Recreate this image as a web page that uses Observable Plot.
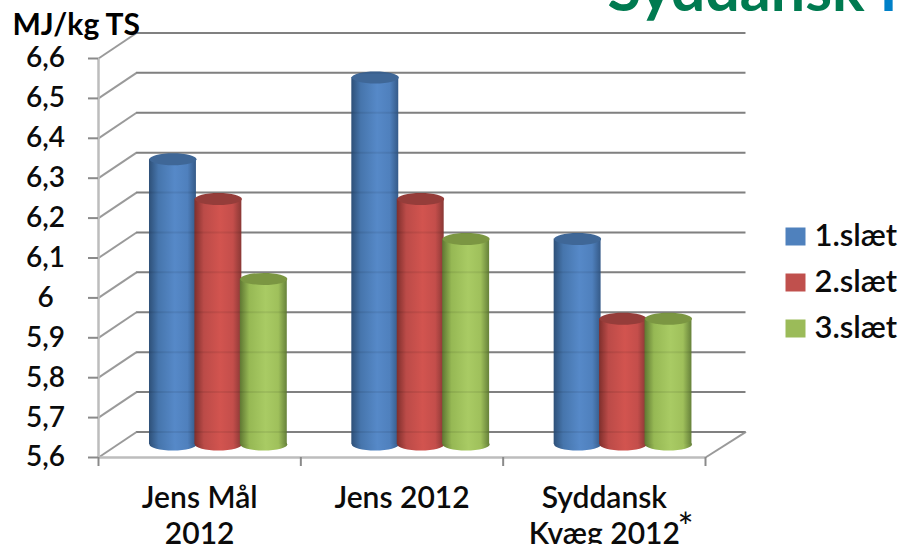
<!DOCTYPE html>
<html><head><meta charset="utf-8">
<style>html,body{margin:0;padding:0;background:#fff;overflow:hidden}</style>
<script src="https://cdn.jsdelivr.net/npm/d3@7"></script>
<script src="https://cdn.jsdelivr.net/npm/@observablehq/plot@0.6"></script>
</head><body><div id="c"></div>
<script>
const categories = ["Jens Mål\n2012", "Jens 2012", "Syddansk\nKvæg 2012"];
const seriesNames = ["1.slæt", "2.slæt", "3.slæt"];
const slaet1 = [6.315, 6.52, 6.115];
const slaet2 = [6.215, 6.215, 5.915];
const slaet3 = [6.015, 6.115, 5.915];
const yTicks = [5.6, 5.7, 5.8, 5.9, 6, 6.1, 6.2, 6.3, 6.4, 6.5, 6.6];
const xTicks = [0, 1, 2, 3];
const colors = [
  {id:"g0", stops:["#2e5078","#4675ac","#5689c8","#4f80bd","#355a88"], cap:"#3f6797", flat:"#4f81bd"},
  {id:"g1", stops:["#7f2f2c","#bb4b48","#d2544f","#c44e4b","#8a3835"], cap:"#953d3a", flat:"#c0504d"},
  {id:"g2", stops:["#5f7732","#96b854","#a9cb64","#9fc05b","#66813a"], cap:"#7b9642", flat:"#9bbb59"}
];
const values = [slaet1, slaet2, slaet3];

const depthX0 = 0.188, depthX1 = 3.2, depthY = 0.064, barDy = -13;
const barW = 0.232, barStart = 0.252, barStep = 0.2245;
const rx = 23.5, ry = 6;
const ellipse = (rX, rY) => ({draw(c){
  const k = 0.5523;
  c.moveTo(-rX,0);
  c.bezierCurveTo(-rX,-k*rY,-k*rX,-rY,0,-rY);
  c.bezierCurveTo(k*rX,-rY,rX,-k*rY,rX,0);
  c.bezierCurveTo(rX,k*rY,k*rX,rY,0,rY);
  c.bezierCurveTo(-k*rX,rY,-rX,k*rY,-rX,0);
  c.closePath();
}});
const box = (w, h) => ({draw(c){ c.rect(-w/2, -h/2, w, h); }});
const defs = () => {
  const d = d3.create("svg:defs");
  for (const col of colors) {
    const g = d.append("linearGradient").attr("id", col.id).attr("x1",0).attr("x2",1).attr("y1",0).attr("y2",0);
    [0,.2,.55,.82,1].forEach((o,i)=>g.append("stop").attr("offset",o).attr("stop-color",col.stops[i]));
  }
  return d.node();
};
const comma = d => String(d).replace(".", ",");
const font = "Lato";
const ink = "#0b0b0b";
const wallLine = {stroke:"#8a8a8a", strokeWidth:2};
const marks = [
  defs,
  Plot.ruleY(yTicks, {y: d => d + depthY, x1: depthX0, x2: depthX1, ...wallLine}),
  Plot.link(yTicks, {x1: 0, y1: d => d, x2: depthX0, y2: d => d + depthY, stroke:"#9a9a9a", strokeWidth:2}),
  Plot.link([5.6], {x1: 3, y1: d => d, x2: depthX1, y2: d => d + depthY, stroke:"#9a9a9a", strokeWidth:2}),
  Plot.ruleX([0], {y1:5.6, y2:6.6, stroke:"#bdbdbd", strokeWidth:2.5}),
  Plot.ruleY([5.6], {x1:0, x2:3, stroke:"#bdbdbd", strokeWidth:2.5}),
  Plot.axisY({ticks:yTicks, tickFormat:comma, tickSize:10, tickPadding:43, textAnchor:"middle", label:null,
    stroke:"#8a8a8a", strokeWidth:2, fill:ink, fontSize:28, fontFamily:font, fontWeight:600}),
  Plot.axisX({ticks:xTicks, tickFormat:()=>"", tickSize:9, label:null, stroke:"#8a8a8a", strokeWidth:2}),
];
categories.forEach((cat, i) => {
  colors.forEach((col, s) => {
    const d = [{x1:i+barStart+s*barStep, v:values[s][i]}];
    const opts = {dy:barDy, fill:`url(#${col.id})`};
    const xc = r => r.x1 + barW/2;
    marks.push(
      Plot.dot(d, {x:xc, y:()=>5.6, r:rx, symbol:ellipse(rx,ry), ...opts}),
      Plot.rect(d, {x1:"x1", x2:r=>r.x1+barW, y1:()=>5.6, y2:"v", ...opts}),
      Plot.dot(d, {x:xc, y:"v", r:rx, symbol:ellipse(rx,ry), dy:barDy, fill:col.cap})
    );
  });
});
marks.push(
  Plot.ruleY(yTicks, {y:d=>d+depthY, x1:depthX0, x2:depthX1, stroke:"#000", strokeOpacity:.07, strokeWidth:2}),
  Plot.text(categories, {x:(d,i)=>i+0.5, y:()=>5.6, text:d=>d, dy:25, lineAnchor:"top", lineHeight:1.2, fontSize:30, fontFamily:font, fontWeight:600, fill:ink}),
  Plot.text(["*"], {frameAnchor:"top-right", dx:-28, dy:456, text:d=>d, fontSize:38, fontFamily:font, fill:ink, lineAnchor:"top", textAnchor:"start"}),
  Plot.text(["MJ/kg TS"], {frameAnchor:"top-left", dx:-86, dy:-33, text:d=>d, fontSize:30, fontWeight:700, fontFamily:font, fill:"#000", textAnchor:"start", lineAnchor:"middle"}),
  Plot.text(["Syddansk"], {frameAnchor:"top-left", dx:509, dy:-48, text:d=>d, fontSize:61, fontWeight:700, fontFamily:font, fill:"#007a50", textAnchor:"start", lineAnchor:"bottom"}),
  Plot.text(["K"], {frameAnchor:"top-left", dx:781, dy:-48, text:d=>d, fontSize:61, fontWeight:700, fontFamily:font, fill:"#0080c8", textAnchor:"start", lineAnchor:"bottom"})
);
seriesNames.forEach((name, s) => {
  marks.push(
    Plot.dot([name], {frameAnchor:"top-right", dx:90, dy:178+46*s, symbol:box(20,18), r:10, fill:colors[s].flat}),
    Plot.text([name], {frameAnchor:"top-right", dx:109, dy:178+46*s, text:d=>d, fontSize:31, fontFamily:font, fontWeight:600, fill:ink, textAnchor:"start", lineAnchor:"middle"})
  );
});
const fig = Plot.plot({
  width:899, height:544, marginLeft:98, marginRight:194, marginTop:58, marginBottom:87,
  style:{background:"#fff", overflow:"hidden"},
  x:{type:"linear", domain:[0,3], axis:null},
  y:{type:"linear", domain:[5.6,6.6], axis:null},
  marks
});
document.getElementById("c").append(fig);
</script></body></html>
